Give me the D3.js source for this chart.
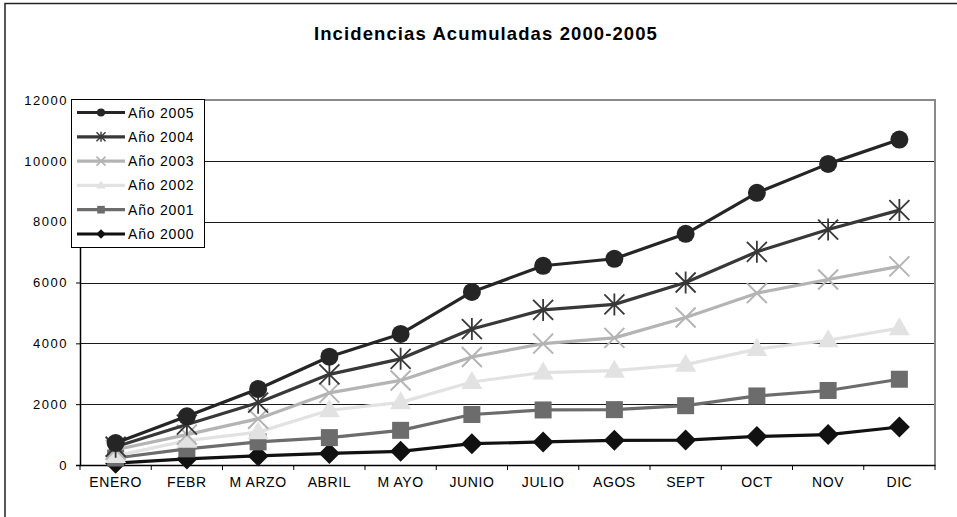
<!DOCTYPE html>
<html><head><meta charset="utf-8">
<script src="https://cdn.jsdelivr.net/npm/d3@7"></script>
<style>body{margin:0;background:#fff}svg{display:block}</style>
</head><body>
<svg id="c" width="957" height="517"></svg>
<script>
const months = ["ENERO","FEBR","M ARZO","ABRIL","M AYO","JUNIO","JULIO","AGOS","SEPT","OCT","NOV","DIC"];
const yTicks = [0,2000,4000,6000,8000,10000,12000];
const seriesNames = ["Año 2005","Año 2004","Año 2003","Año 2002","Año 2001","Año 2000"];
const y2005 = [720,1600,2500,3560,4310,5690,6550,6780,7600,8950,9900,10700];
const y2004 = [600,1330,2050,2980,3490,4470,5100,5280,6000,7010,7740,8380];
const y2003 = [500,1000,1520,2370,2780,3550,3990,4180,4850,5650,6100,6530];
const y2002 = [300,800,1080,1800,2060,2730,3040,3100,3300,3810,4100,4500];
const y2001 = [230,530,760,900,1140,1660,1810,1820,1950,2270,2450,2820];
const y2000 = [60,200,300,380,450,700,760,810,820,940,1000,1250];
const seriesValues = [y2005,y2004,y2003,y2002,y2001,y2000];
const colors = ["#252525","#383838","#b4b4b4","#e2e2e2","#6c6c6c","#111111"];
const markers = ["circle","star","x","triangle","square","diamond"];

const svg = d3.select("#c");
const L=80, R=935, T=100, B=465;
const x = d3.scaleBand().domain(months).range([L,R]);
const y = d3.scaleLinear().domain([0,12000]).range([B,T]);

// outer frame
svg.append("path").attr("d","M5,520 L5,3.5 L960,3.5").attr("fill","none").attr("stroke","#222").attr("stroke-width",1.5);

// title
svg.append("text").attr("x",486).attr("y",40).attr("text-anchor","middle")
  .attr("font-family","Liberation Sans, Arial, sans-serif").attr("font-weight","bold")
  .attr("font-size",18.5).attr("letter-spacing",1.1).attr("fill","#000")
  .text("Incidencias Acumuladas 2000-2005");

// gridlines
svg.append("g").selectAll("line").data(yTicks.filter(d=>d>0&&d<12000)).join("line")
  .attr("x1",L).attr("x2",R).attr("y1",d=>Math.round(y(d))+0.5).attr("y2",d=>Math.round(y(d))+0.5)
  .attr("stroke","#1a1a1a").attr("stroke-width",1);
// plot border top/right
svg.append("path").attr("d",`M${L},${T} L${R},${T} L${R},${B}`).attr("fill","none").attr("stroke","#8a8a8a").attr("stroke-width",2);

// y axis
const yAxis = d3.axisLeft(y).tickValues(yTicks).tickSize(4).tickPadding(8).tickFormat(d3.format("d"));
const ga = svg.append("g").attr("transform",`translate(${L},0)`).call(yAxis);
ga.select(".domain").attr("stroke","#000").attr("stroke-width",1.5);
ga.selectAll(".tick line").attr("stroke","#000");
ga.selectAll("text").attr("font-family","Liberation Sans, Arial, sans-serif").attr("font-size",13).attr("letter-spacing",1.5).attr("fill","#000");

// x axis
const xAxis = d3.axisBottom(x).tickSize(0).tickPadding(12);
const gx = svg.append("g").attr("transform",`translate(0,${B})`).call(xAxis);
gx.select(".domain").attr("stroke","#000").attr("stroke-width",1.5);
gx.selectAll("text").attr("font-family","Liberation Sans, Arial, sans-serif").attr("font-size",14).attr("letter-spacing",0.6).attr("fill","#000");
// tick marks at band boundaries
const bounds = months.map(m=>x(m)).concat([R]);
svg.append("g").selectAll("line").data(bounds).join("line")
  .attr("x1",d=>d).attr("x2",d=>d).attr("y1",B).attr("y2",B+5).attr("stroke","#000").attr("stroke-width",1);

function drawMarker(g, type, color, s){
  if(type==="circle") g.append("circle").attr("r",9*s).attr("fill",color);
  else if(type==="square") g.append("rect").attr("x",-8.5*s).attr("y",-8.5*s).attr("width",17*s).attr("height",17*s).attr("fill",color);
  else if(type==="diamond") g.append("path").attr("d",`M0,${-10.5*s} L${10.5*s},0 L0,${10.5*s} L${-10.5*s},0Z`).attr("fill",color);
  else if(type==="triangle") g.append("path").attr("d",`M0,${-11*s} L${10.5*s},${7*s} L${-10.5*s},${7*s}Z`).attr("fill",color);
  else if(type==="x") g.append("path").attr("d",`M${-10*s},${-10*s} L${10*s},${10*s} M${10*s},${-10*s} L${-10*s},${10*s}`).attr("stroke",color).attr("stroke-width",2*Math.max(s,0.8)).attr("fill","none");
  else if(type==="star") g.append("path").attr("d",`M0,${-11*s} L0,${11*s} M${-10*s},${-10*s} L${10*s},${10*s} M${10*s},${-10*s} L${-10*s},${10*s}`).attr("stroke",color).attr("stroke-width",1.8*Math.max(s,0.8)).attr("fill","none");
}

const line = d3.line().x((d,i)=>x(months[i])+x.bandwidth()/2).y(d=>y(d));
for(let k=seriesValues.length-1;k>=0;k--){
  const vals = seriesValues[k];
  const g = svg.append("g");
  g.append("path").datum(vals).attr("d",line).attr("fill","none").attr("stroke",colors[k]).attr("stroke-width",3.2).attr("stroke-linejoin","round");
  vals.forEach((v,i)=>{
    const mg = g.append("g").attr("transform",`translate(${x(months[i])+x.bandwidth()/2},${y(v)})`);
    drawMarker(mg, markers[k], colors[k], 1);
  });
}

// legend
const lg = svg.append("g");
lg.append("rect").attr("x",71.5).attr("y",99.5).attr("width",133).attr("height",148).attr("fill","#fff").attr("stroke","#000").attr("stroke-width",1);
seriesNames.forEach((n,k)=>{
  const cy = 112.5 + k*24.3;
  lg.append("line").attr("x1",77).attr("x2",125).attr("y1",cy).attr("y2",cy).attr("stroke",colors[k]).attr("stroke-width",3.2);
  const mg = lg.append("g").attr("transform",`translate(101,${cy})`);
  drawMarker(mg, markers[k], colors[k], 0.45);
  lg.append("text").attr("x",128).attr("y",cy+5).attr("font-family","Liberation Sans, Arial, sans-serif").attr("font-size",14).attr("letter-spacing",0.8).attr("fill","#000").text(n);
});
</script>
</body></html>
